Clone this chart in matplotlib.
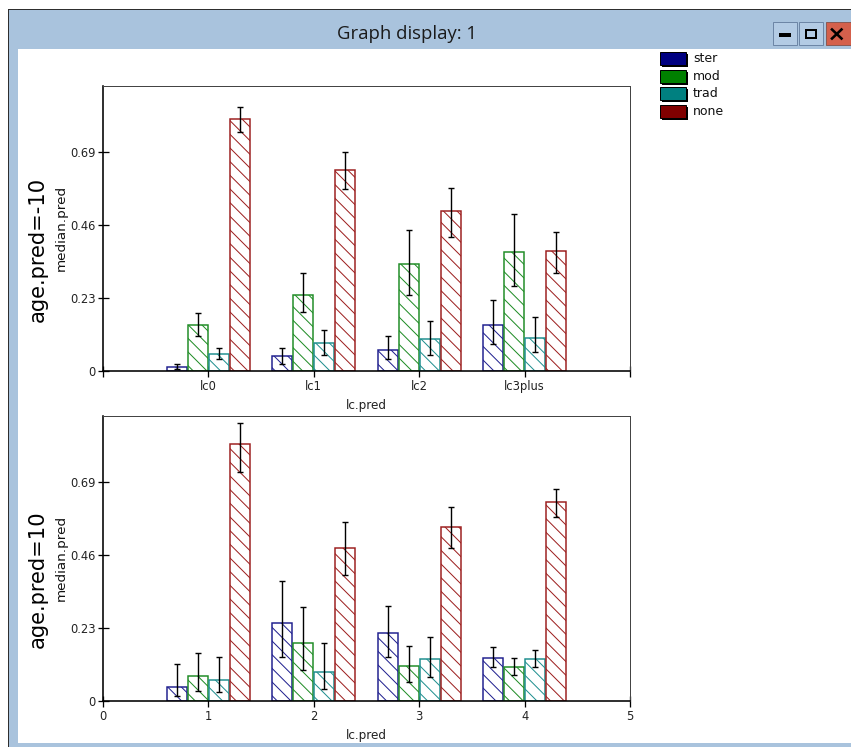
import numpy as np
import matplotlib
matplotlib.use("Agg")
import matplotlib.pyplot as plt
from matplotlib.patches import Rectangle
from matplotlib.lines import Line2D

# ---------------- data ----------------
categories_top = ["lc0", "lc1", "lc2", "lc3plus"]
categories_bottom = ["1", "2", "3", "4"]
series = ["ster", "mod", "trad", "none"]
series_edge = ["#20208f", "#1f8c25", "#1f8f8f", "#9c1f1f"]
series_fill = ["#000080", "#008000", "#008080", "#800000"]
panel_labels = ["age.pred=-10", "age.pred=10"]
y_ticks = [0, 0.23, 0.46, 0.69]
y_ticklabels = ["0", "0.23", "0.46", "0.69"]

# panel 1: age.pred=-10
p1_ster = [0.014, 0.046, 0.066, 0.146]
p1_ster_lo = [0.006, 0.022, 0.037, 0.085]
p1_ster_hi = [0.022, 0.071, 0.111, 0.224]
p1_mod = [0.145, 0.240, 0.337, 0.374]
p1_mod_lo = [0.110, 0.185, 0.240, 0.269]
p1_mod_hi = [0.184, 0.308, 0.444, 0.495]
p1_trad = [0.054, 0.087, 0.100, 0.104]
p1_trad_lo = [0.037, 0.051, 0.051, 0.061]
p1_trad_hi = [0.073, 0.129, 0.158, 0.170]
p1_none = [0.794, 0.632, 0.503, 0.378]
p1_none_lo = [0.754, 0.573, 0.423, 0.310]
p1_none_hi = [0.832, 0.691, 0.578, 0.439]

# panel 2: age.pred=10
p2_ster = [0.045, 0.245, 0.215, 0.136]
p2_ster_lo = [0.017, 0.140, 0.140, 0.107]
p2_ster_hi = [0.116, 0.378, 0.298, 0.170]
p2_mod = [0.078, 0.182, 0.111, 0.107]
p2_mod_lo = [0.032, 0.099, 0.061, 0.081]
p2_mod_hi = [0.152, 0.297, 0.173, 0.136]
p2_trad = [0.066, 0.090, 0.133, 0.133]
p2_trad_lo = [0.027, 0.037, 0.077, 0.107]
p2_trad_hi = [0.140, 0.183, 0.203, 0.162]
p2_none = [0.811, 0.483, 0.548, 0.628]
p2_none_lo = [0.721, 0.398, 0.481, 0.580]
p2_none_hi = [0.877, 0.565, 0.611, 0.669]

panel1 = [(p1_ster, p1_ster_lo, p1_ster_hi), (p1_mod, p1_mod_lo, p1_mod_hi),
          (p1_trad, p1_trad_lo, p1_trad_hi), (p1_none, p1_none_lo, p1_none_hi)]
panel2 = [(p2_ster, p2_ster_lo, p2_ster_hi), (p2_mod, p2_mod_lo, p2_mod_hi),
          (p2_trad, p2_trad_lo, p2_trad_hi), (p2_none, p2_none_lo, p2_none_hi)]

# ---------------- layout helpers ----------------
DPI = 82
W, H = 851, 747


def fx(x):
    return x / W


def fy(y):
    return 1 - y / H


def fs(px):
    return px * 72.0 / DPI


plt.rcParams["font.family"] = ["DejaVu Sans"]
plt.rcParams["hatch.linewidth"] = fs(1.0)

fig = plt.figure(figsize=(W / DPI, H / DPI), dpi=DPI, facecolor="white")


def frect(x0, y0, x1, y1, **kw):
    r = Rectangle((fx(x0), fy(y1)), (x1 - x0) / W, (y1 - y0) / H,
                  transform=fig.transFigure, **kw)
    fig.add_artist(r)
    return r


# window chrome
BLUE = "#a9c3dd"
frect(8, 9, 860, 760, facecolor="#2e2e2e", lw=0, zorder=-30)
frect(9, 10, 860, 760, facecolor=BLUE, lw=0, zorder=-29)
frect(18, 49, 860, 743, facecolor="white", lw=0, zorder=-28)
fig.text(fx(407), fy(34), "Graph display: 1", ha="center", va="center",
         fontsize=fs(18.5), family=["Open Sans", "DejaVu Sans"], color="#1a1a1a")
# buttons
frect(773, 22, 797, 45, facecolor="#b3cbe4", edgecolor="#6d86a6", lw=fs(1), zorder=2)
frect(778.5, 33, 790.5, 36.5, facecolor="black", lw=0, zorder=3)
frect(799, 22, 823, 45, facecolor="#b3cbe4", edgecolor="#6d86a6", lw=fs(1), zorder=2)
frect(806, 30, 816, 37.5, facecolor="none", edgecolor="black", lw=fs(2), zorder=3)
frect(826, 22, 852, 45, facecolor="#d4604c", edgecolor="#8a5a55", lw=fs(1), zorder=2)
fig.add_artist(Line2D([fx(832), fx(841.5)], [fy(29.5), fy(38.5)], transform=fig.transFigure,
                      color="black", lw=fs(2.6), zorder=3))
fig.add_artist(Line2D([fx(832), fx(841.5)], [fy(38.5), fy(29.5)], transform=fig.transFigure,
                      color="black", lw=fs(2.6), zorder=3))

# legend
for i, (name, col) in enumerate(zip(series, series_fill)):
    top = 52 + i * 17.6
    frect(662, top + 2, 688, top + 15, facecolor="black", lw=0, zorder=2)
    frect(660, top, 686, top + 13, facecolor=col, edgecolor="black", lw=fs(1), zorder=3)
    fig.text(fx(693), fy(top + 6.5), name, ha="left", va="center",
             fontsize=fs(12.5), color="#111111")

# ---------------- panels ----------------
offsets = [-0.3, -0.1, 0.1, 0.3]
bar_w = 0.19
group_x = np.arange(1, 5)

panel_tops = [86, 416]
for p, (data, ptop, plabel) in enumerate(zip([panel1, panel2], panel_tops, panel_labels)):
    pbot = ptop + 285
    ax = fig.add_axes([fx(103), fy(pbot), 527 / W, 285 / H])
    ax.set_facecolor("white")
    for s, ((vals, lo, hi), ecol, off) in enumerate(zip(data, series_edge, offsets)):
        vals = np.array(vals)
        lo = np.array(lo)
        hi = np.array(hi)
        xs = group_x + off
        ax.bar(xs, vals, bar_w, facecolor="white", edgecolor=ecol, hatch="\\\\",
               linewidth=fs(1.5), zorder=2)
        ax.errorbar(xs, vals, yerr=[vals - lo, hi - vals], fmt="none", ecolor="black",
                    elinewidth=fs(1.4), capsize=fs(2.7), capthick=fs(1.4), zorder=3)
    ax.set_xlim(0, 5)
    ax.set_ylim(0, 0.898)
    ax.set_xticks([0, 1, 2, 3, 4, 5])
    if p == 0:
        ax.set_xticklabels([""] + categories_top + [""])
    else:
        ax.set_xticklabels(["0"] + categories_bottom + ["5"])
    ax.set_yticks(y_ticks)
    ax.set_yticklabels(y_ticklabels)
    ax.tick_params(direction="inout", length=fs(11), width=fs(1.3), colors="black",
                   labelsize=fs(11.5), labelcolor="#222222")
    ax.tick_params(axis="x", pad=fs(4))
    ax.tick_params(axis="y", pad=fs(2))
    for side in ["top", "right"]:
        ax.spines[side].set_color("#444444")
        ax.spines[side].set_linewidth(fs(1))
    for side in ["left", "bottom"]:
        ax.spines[side].set_color("black")
        ax.spines[side].set_linewidth(fs(1.6))
    fig.text(fx(366), fy(pbot + 34), "lc.pred", ha="center", va="center",
             fontsize=fs(12), color="#222222")
    fig.text(fx(61), fy(ptop + 142), "median.pred", ha="center", va="center",
             rotation=90, fontsize=fs(13.5), color="#111111")
    fig.text(fx(38), fy(ptop + 163), plabel, ha="center", va="center",
             rotation=90, fontsize=fs(21), color="black")

fig.savefig("out.png", dpi=DPI, facecolor="white")
